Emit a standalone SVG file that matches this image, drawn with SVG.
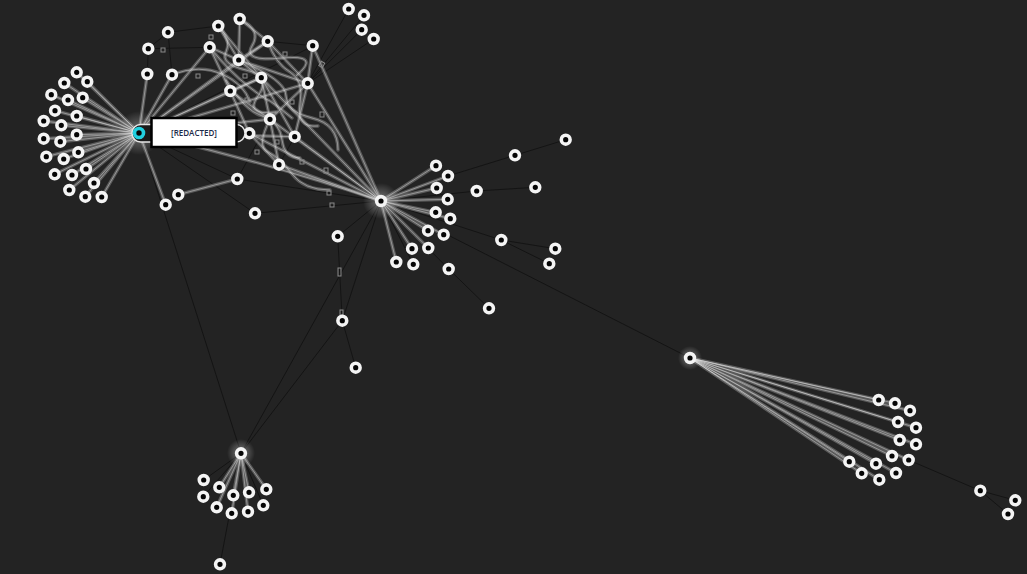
<svg xmlns="http://www.w3.org/2000/svg" xmlns:xlink="http://www.w3.org/1999/xlink" width="1027" height="574" viewBox="0 0 1027 574">
<style>
.bg{fill:#232323}
.d{stroke:#141414;stroke-width:1;fill:none}
.bo{stroke:#a8a8a8;stroke-width:3.4;stroke-opacity:.42;fill:none;stroke-linecap:round}
.bi{stroke:#f0f0f0;stroke-width:.9;stroke-opacity:.45;fill:none}
.m{fill:none;stroke:#8a8a8a;stroke-width:1}
.n circle{fill:#050505;stroke:#f4f4f4;stroke-width:3.6}
.lbl{font-family:"Open Sans","Liberation Sans",sans-serif;font-size:8px;font-weight:600;fill:#1c2a48}
</style>
<defs>
<radialGradient id="glow">
<stop offset="0" stop-color="#ffffff" stop-opacity=".4"/>
<stop offset="1" stop-color="#ffffff" stop-opacity="0"/>
</radialGradient>
<g id="bundles">
<!-- left fan -->
<path d="M139,133L76.7,72.3M139,133L87.3,81.7M139,133L64.3,83M139,133L51.3,94.7M139,133L68,100M139,133L82.7,97.7M139,133L55,110.7M139,133L76.7,116M139,133L43.7,121M139,133L61.3,125.3M139,133L76.7,134.7M139,133L43.7,138.7M139,133L60.3,141.7M139,133L78.3,152.3M139,133L46.3,156.7M139,133L63.7,159M139,133L86,169M139,133L54.7,174.3M139,133L72,175M139,133L94,183M139,133L69.3,190M139,133L85.3,196.7M139,133L101.7,197"/>
<!-- hub C to top -->
<path d="M139,133L147.3,74M139,133L172,74.7M139,133L230.3,91M139,133L238.7,60M139,133L261.3,77.7M139,133L209.7,47.3M139,133L270,119.3M139,133L294.7,136.7M139,133L165.7,204.7M178.3,194.7L237.3,179M139,133Q260,160 381,201M139,133L307.7,83.3M139,133L267.7,41.3"/>
<!-- top tangle -->
<path d="M218.3,26L238.7,60M239.7,19L238.7,60M209.7,47.3L238.7,60M238.7,60L267.7,41.3M238.7,60L261.3,77.7M261.3,77.7L230.3,91M261.3,77.7L270,119.3M267.7,41.3L307.7,83.3M312.7,45.7L307.7,83.3M307.7,83.3L270,119.3M307.7,83.3L294.7,136.7M230.3,91L249.3,133.3M279,164.7L249.3,133.3M218.3,26L261.3,77.7M239.7,19L267.7,41.3M209.7,47.3L230.3,91M230.3,91L270,119.3M261.3,77.7L294.7,136.7M270,119.3L279,164.7M238.7,60L307.7,83.3"/>
<path d="M218.3,26Q232,40 226,52T246,70T258,96T276,112M239.7,19Q262,30 252,46T282,58T296,76M209.7,47.3Q230,72 248,86T268,100T292,118M267.7,41.3Q276,64 290,72T300,104T318,126M226,80Q244,110 262,116T282,140T300,158M172,74.7Q200,64 222,74T250,102M238.7,60Q286,80 286,96T312,118T338,150M270,119.3Q256,146 268,152T292,174T330,190"/>
<!-- top to center hub -->
<path d="M294.7,136.7L381,201M270,119.3L381,201M307.7,83.3L381,201M279,164.7L381,201M249.3,133.3L381,201M312.7,45.7L381,201M261.3,77.7L381,201"/>
<!-- center fan -->
<path d="M381,201L436,165.7M381,201L448,176M381,201L436.7,188M381,201L447.7,199.3M381,201L435.7,212.3M381,201L450.3,218.7M381,201L428,230.7M381,201L443.7,234.7M381,201L412,248.7M381,201L428.3,248M381,201L396.3,262"/>
<!-- right fan -->
<path d="M690,358L878.7,400M690,358L895,403.3M690,358L898,422M690,358L916,427.7M690,358L899.7,440M690,358L916,444.3M690,358L892,456M690,358L908.7,460M690,358L849.3,461.7M690,358L876,463.7M690,358L896,473M690,358L861.7,473.3M690,358L879.3,479.7M690,358L910,410.7"/>
<!-- bottom fan -->
<path d="M241,453.3L233.3,495.3M241,453.3L249,492.3M241,453.3L231.7,513.3M241,453.3L248,511.7M241,453.3L219.3,487.3M241,453.3L266.3,489.3M241,453.3L216.7,507.3"/>
</g>
</defs>
<rect class="bg" x="0" y="0" width="1027" height="574"/>
<g id="connectors">
<path class="d" d="M168,32.3L218.3,26M168,32.3L148.3,48.7M148.3,48.7L147.3,74M148.3,48.7L209.7,47.3M168,32.3L172,74.7M312.7,45.7L267.7,41.3M307.7,83.3L348.7,9M307.7,83.3L364,15.3M307.7,83.3L361.7,29.7M307.7,83.3L373.7,39M312.7,45.7L381,201M237.3,179L381,201M139,133L255,213.3M255,213.3L381,201M139,133L241,453.3M381,201L241,453.3M381,201L337.7,236.3M337.7,236.3L342.3,320.7M381,201L342.3,320.7M342.3,320.7L355.7,367.7M342.3,320.7L241,453.3M381,201L690,358M908.7,460L980.3,490.7M980.3,490.7L1015.3,500.3M980.3,490.7L1008,514M448,176L515,155.3M515,155.3L565.7,139.7M381,201L476.7,191M476.7,191L535.3,187.3M381,201L501.3,240M501.3,240L555.3,248.7M501.3,240L549.3,263.7M381,201L448.7,269M448.7,269L489,308.3M381,201L413.3,264.3M241,453.3L220,564.3M241,453.3L203.7,480M241,453.3L203.3,496.7M241,453.3L263.3,505.3M139,133L237.3,179M165.7,204.7L178.3,194.7M690,358L916,444.3M270,119.3L237.3,179M294.7,136.7L279,164.7M139,133L313,46"/>
<use xlink:href="#bundles" class="bo"/>
<use xlink:href="#bundles" class="bi"/>
<rect class="m" x="327" y="191" width="4" height="4"/>
<rect class="m" x="330" y="203" width="4" height="4"/>
<rect class="m" x="320" y="62" width="4" height="5" transform="rotate(30 322 64)"/>
<rect class="m" x="338" y="268" width="3" height="8"/>
<rect class="m" x="340" y="310" width="3" height="5"/>
<rect class="m" x="161" y="48" width="4" height="4"/>
<rect class="m" x="209" y="35" width="4" height="4"/>
<rect class="m" x="243" y="74" width="4" height="4"/>
<rect class="m" x="283" y="52" width="4" height="4"/>
<rect class="m" x="290" y="100" width="4" height="4"/>
<rect class="m" x="255" y="150" width="4" height="4"/>
<rect class="m" x="275" y="140" width="4" height="4"/>
<rect class="m" x="324" y="168" width="4" height="5"/>
<rect class="m" x="300" y="160" width="4" height="4"/>
<rect class="m" x="245" y="98" width="4" height="4"/>
<rect class="m" x="196" y="74" width="4" height="4"/>
<rect class="m" x="231" y="111" width="4" height="4"/>
<rect class="m" x="320" y="112" width="4" height="5"/>
</g>
<circle cx="139" cy="133" r="22" fill="url(#glow)"/>
<circle cx="381" cy="201" r="18" fill="url(#glow)"/>
<circle cx="690" cy="358" r="12" fill="url(#glow)"/>
<circle cx="241" cy="453" r="14" fill="url(#glow)"/>
<g id="nodes" class="n">
<g id="n-l"><circle cx="76.7" cy="72.3" r="4.4"/><circle cx="87.3" cy="81.7" r="4.4"/><circle cx="64.3" cy="83" r="4.4"/><circle cx="51.3" cy="94.7" r="4.4"/><circle cx="68" cy="100" r="4.4"/><circle cx="82.7" cy="97.7" r="4.4"/><circle cx="55" cy="110.7" r="4.4"/><circle cx="76.7" cy="116" r="4.4"/><circle cx="43.7" cy="121" r="4.4"/><circle cx="61.3" cy="125.3" r="4.4"/><circle cx="76.7" cy="134.7" r="4.4"/><circle cx="43.7" cy="138.7" r="4.4"/><circle cx="60.3" cy="141.7" r="4.4"/><circle cx="78.3" cy="152.3" r="4.4"/><circle cx="46.3" cy="156.7" r="4.4"/><circle cx="63.7" cy="159" r="4.4"/><circle cx="86" cy="169" r="4.4"/><circle cx="54.7" cy="174.3" r="4.4"/><circle cx="72" cy="175" r="4.4"/><circle cx="94" cy="183" r="4.4"/><circle cx="69.3" cy="190" r="4.4"/><circle cx="85.3" cy="196.7" r="4.4"/><circle cx="101.7" cy="197" r="4.4"/></g>
<g id="n-t"><circle cx="168" cy="32.3" r="4.4"/><circle cx="218.3" cy="26" r="4.4"/><circle cx="239.7" cy="19" r="4.4"/><circle cx="148.3" cy="48.7" r="4.4"/><circle cx="209.7" cy="47.3" r="4.4"/><circle cx="267.7" cy="41.3" r="4.4"/><circle cx="312.7" cy="45.7" r="4.4"/><circle cx="238.7" cy="60" r="4.4"/><circle cx="147.3" cy="74" r="4.4"/><circle cx="172" cy="74.7" r="4.4"/><circle cx="261.3" cy="77.7" r="4.4"/><circle cx="230.3" cy="91" r="4.4"/><circle cx="307.7" cy="83.3" r="4.4"/><circle cx="270" cy="119.3" r="4.4"/><circle cx="249.3" cy="133.3" r="4.4"/><circle cx="294.7" cy="136.7" r="4.4"/><circle cx="279" cy="164.7" r="4.4"/><circle cx="237.3" cy="179" r="4.4"/><circle cx="178.3" cy="194.7" r="4.4"/><circle cx="165.7" cy="204.7" r="4.4"/><circle cx="348.7" cy="9" r="4.4"/><circle cx="364" cy="15.3" r="4.4"/><circle cx="361.7" cy="29.7" r="4.4"/><circle cx="373.7" cy="39" r="4.4"/></g>
<g id="n-c"><circle cx="381" cy="201" r="4.4"/><circle cx="436" cy="165.7" r="4.4"/><circle cx="448" cy="176" r="4.4"/><circle cx="436.7" cy="188" r="4.4"/><circle cx="447.7" cy="199.3" r="4.4"/><circle cx="435.7" cy="212.3" r="4.4"/><circle cx="450.3" cy="218.7" r="4.4"/><circle cx="428" cy="230.7" r="4.4"/><circle cx="443.7" cy="234.7" r="4.4"/><circle cx="412" cy="248.7" r="4.4"/><circle cx="428.3" cy="248" r="4.4"/><circle cx="396.3" cy="262" r="4.4"/><circle cx="413.3" cy="264.3" r="4.4"/><circle cx="448.7" cy="269" r="4.4"/><circle cx="476.7" cy="191" r="4.4"/><circle cx="535.3" cy="187.3" r="4.4"/><circle cx="515" cy="155.3" r="4.4"/><circle cx="565.7" cy="139.7" r="4.4"/><circle cx="501.3" cy="240" r="4.4"/><circle cx="555.3" cy="248.7" r="4.4"/><circle cx="549.3" cy="263.7" r="4.4"/><circle cx="489" cy="308.3" r="4.4"/><circle cx="337.7" cy="236.3" r="4.4"/><circle cx="342.3" cy="320.7" r="4.4"/><circle cx="355.7" cy="367.7" r="4.4"/><circle cx="255" cy="213.3" r="4.4"/></g>
<g id="n-b"><circle cx="241" cy="453.3" r="4.4"/><circle cx="203.7" cy="480" r="4.4"/><circle cx="219.3" cy="487.3" r="4.4"/><circle cx="203.3" cy="496.7" r="4.4"/><circle cx="233.3" cy="495.3" r="4.4"/><circle cx="249" cy="492.3" r="4.4"/><circle cx="266.3" cy="489.3" r="4.4"/><circle cx="216.7" cy="507.3" r="4.4"/><circle cx="231.7" cy="513.3" r="4.4"/><circle cx="248" cy="511.7" r="4.4"/><circle cx="263.3" cy="505.3" r="4.4"/><circle cx="220" cy="564.3" r="4.4"/></g>
<g id="n-r"><circle cx="690" cy="358" r="4.4"/><circle cx="878.7" cy="400" r="4.4"/><circle cx="895" cy="403.3" r="4.4"/><circle cx="910" cy="410.7" r="4.4"/><circle cx="898" cy="422" r="4.4"/><circle cx="916" cy="427.7" r="4.4"/><circle cx="899.7" cy="440" r="4.4"/><circle cx="916" cy="444.3" r="4.4"/><circle cx="892" cy="456" r="4.4"/><circle cx="908.7" cy="460" r="4.4"/><circle cx="849.3" cy="461.7" r="4.4"/><circle cx="876" cy="463.7" r="4.4"/><circle cx="896" cy="473" r="4.4"/><circle cx="861.7" cy="473.3" r="4.4"/><circle cx="879.3" cy="479.7" r="4.4"/><circle cx="980.3" cy="490.7" r="4.4"/><circle cx="1015.3" cy="500.3" r="4.4"/><circle cx="1008" cy="514" r="4.4"/></g>
</g>
<g id="selected">
<rect x="132" y="124.5" width="113" height="17.5" rx="8.7" fill="#1b1b1b" stroke="#e6e6e6" stroke-width="1.5"/>
<circle cx="139" cy="133" r="4.5" fill="#050505" stroke="#22d0e0" stroke-width="3.6"/>
<rect x="151.5" y="118" width="85" height="29" fill="#ffffff" stroke="#000000" stroke-width="2.5"/>
<text class="lbl" x="194" y="135.8" text-anchor="middle">[REDACTED]</text>
</g>
</svg>
